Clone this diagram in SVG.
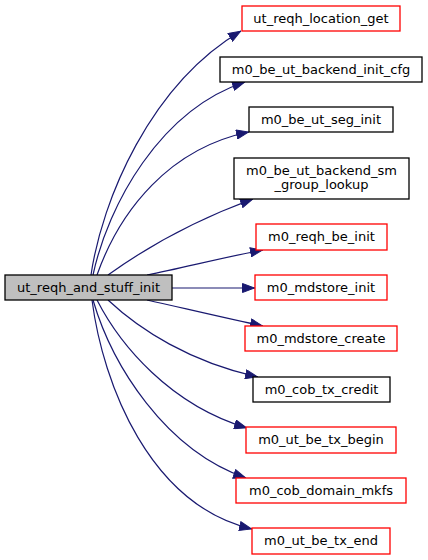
<svg xmlns="http://www.w3.org/2000/svg" width="428" height="560" viewBox="0 0 428 560">
<defs>
<marker id="ah" viewBox="0 0 13 10" refX="13" refY="5" markerWidth="13" markerHeight="10" markerUnits="userSpaceOnUse" orient="auto">
<path d="M0.5,0.5 L12.5,5 L0.5,9.5 Z" fill="#191970" stroke="#191970" stroke-width="1"/>
</marker>
</defs>
<style>
rect{fill:#ffffff;stroke-width:1.3}
.r{stroke:#ff0000}
.k{stroke:#000000}
.src{fill:#bfbfbf;stroke:#000000}
text{font-family:"DejaVu Sans","Liberation Sans",sans-serif;font-size:13px;text-anchor:middle;fill:#000000}
#edges path{fill:none;stroke:#191970;stroke-width:1.2;marker-end:url(#ah)}
</style>
<g id="edges">
<path d="M91,275 C102,200 150,85 241,31"/>
<path d="M93,275 C108,205 160,110 245,82"/>
<path d="M97,275 C120,210 170,148 249,132"/>
<path d="M108,275 C140,252 190,222 253,199"/>
<path d="M147,275 C183,268 220,258 263,250"/>
<path d="M172,288 L255,288"/>
<path d="M147,300 C183,308 220,317 263,326"/>
<path d="M108,300 C140,330 190,362 258,377"/>
<path d="M97,300 C120,345 170,405 247,428"/>
<path d="M93,300 C112,365 165,450 246,478"/>
<path d="M92,300 C103,385 150,505 252,529"/>
</g>
<g id="n0"><rect class="src" x="5" y="275" width="167" height="25"/><text x="88.5" y="292">ut_reqh_and_stuff_init</text></g>
<g id="n1"><rect class="r" x="242" y="6" width="158" height="25"/><text x="321" y="22.5">ut_reqh_location_get</text></g>
<g id="n2"><rect class="k" x="220" y="57" width="202" height="25"/><text x="321" y="73.5">m0_be_ut_backend_init_cfg</text></g>
<g id="n3"><rect class="k" x="249" y="107" width="144" height="25"/><text x="321" y="123.5">m0_be_ut_seg_init</text></g>
<g id="n4"><rect class="k" x="234" y="158" width="175" height="41"/><text x="321.5" y="174.5">m0_be_ut_backend_sm</text><text x="321.5" y="188.5">_group_lookup</text></g>
<g id="n5"><rect class="r" x="256" y="224" width="131" height="26"/><text x="321.5" y="241">m0_reqh_be_init</text></g>
<g id="n6"><rect class="r" x="255" y="275" width="132" height="25"/><text x="321" y="292">m0_mdstore_init</text></g>
<g id="n7"><rect class="r" x="245" y="326" width="152" height="25"/><text x="321" y="343">m0_mdstore_create</text></g>
<g id="n8"><rect class="k" x="253" y="377" width="137" height="25"/><text x="321.5" y="394">m0_cob_tx_credit</text></g>
<g id="n9"><rect class="r" x="246" y="427" width="150" height="26"/><text x="321" y="444">m0_ut_be_tx_begin</text></g>
<g id="n10"><rect class="r" x="236" y="478" width="170" height="25"/><text x="321" y="495">m0_cob_domain_mkfs</text></g>
<g id="n11"><rect class="r" x="252" y="528" width="138" height="26"/><text x="321" y="545">m0_ut_be_tx_end</text></g>
</svg>
